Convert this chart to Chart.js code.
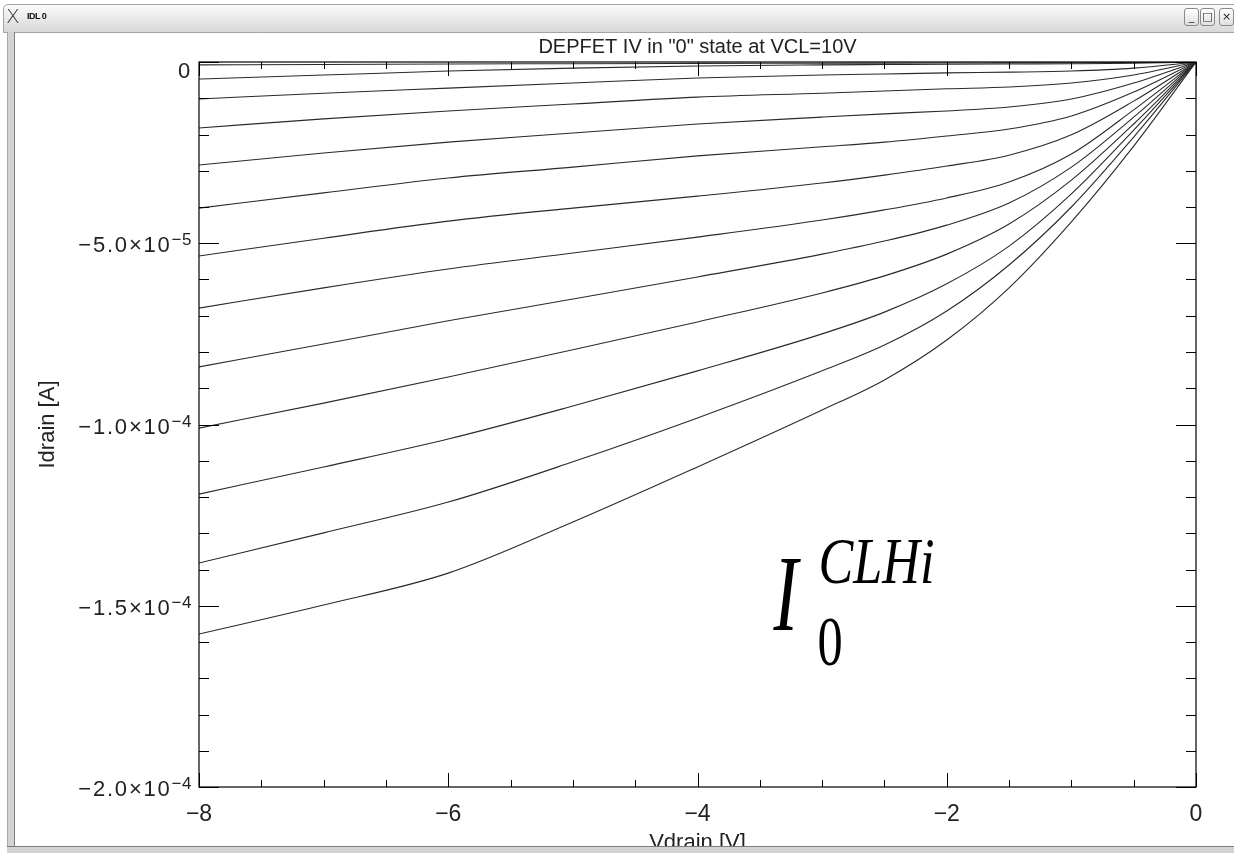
<!DOCTYPE html>
<html>
<head>
<meta charset="utf-8">
<script src="https://cdn.jsdelivr.net/npm/chart.js@4/dist/chart.umd.min.js"></script>
<style>
  html, body { margin: 0; padding: 0; background: #ffffff; width: 1234px; height: 853px; overflow: hidden; }
  #chart { position: absolute; left: 0; top: 0; }
  .chrome { position: absolute; z-index: 5; }
  #titlebar { left: 3px; top: 4px; width: 1240px; height: 27px; background: linear-gradient(#fbfbfb, #d8d8d8);
              border: 1px solid #a3a3a3; border-radius: 5px 5px 0 0; }
  #xicon { left: 6px; top: 4px; font: 200 20px "DejaVu Sans", sans-serif; color: #333; }
  #wname { left: 27px; top: 11px; font: bold 9px "Liberation Sans Narrow", "Liberation Sans", sans-serif; color: #111; letter-spacing: -0.5px; }
  .btn { top: 8px; width: 13px; height: 16px; border: 1px solid #8a8a8a; border-radius: 3px; background: linear-gradient(#ffffff, #e0e0e0);
         font: 11px "DejaVu Sans", sans-serif; color: #222; text-align: center; line-height: 15px; }
  #leftbar { left: 7px; top: 32px; width: 6px; height: 821px; background: #d3d3d3; border-left: 1px solid #a8a8a8; border-right: 1px solid #7d7d7d; }
  #bottombar { left: 7px; top: 846px; width: 1227px; height: 7px; background: #d3d3d3; border-top: 1px solid #7d7d7d; }
</style>
</head>
<body>
<canvas id="chart" width="1234" height="853"></canvas>
<div class="chrome" id="titlebar"></div>
<div class="chrome" id="xicon">X</div>
<div class="chrome" id="wname">IDL 0</div>
<div class="chrome btn" style="left:1184px;">_</div>
<div class="chrome btn" style="left:1200px;">□</div>
<div class="chrome btn" style="left:1219px;">×</div>
<div class="chrome" id="leftbar"></div>
<div class="chrome" id="bottombar"></div>
<script>
// ---- data ----
const vdrain = [-8, -7, -6, -5, -4, -3, -2.5, -2, -1.5, -1, -0.5, 0];

const idrain01 = [-0.08e-5, -0.07e-5, -0.055e-5, -0.047e-5, -0.039e-5, -0.033e-5, -0.030e-5, -0.028e-5, -0.025e-5, -0.022e-5, -0.014e-5, 0];
const idrain02 = [-0.47e-5, -0.36e-5, -0.25e-5, -0.17e-5, -0.11e-5, -0.08e-5, -0.07e-5, -0.06e-5, -0.055e-5, -0.05e-5, -0.036e-5, 0];
const idrain03 = [-1.02e-5, -0.86e-5, -0.72e-5, -0.58e-5, -0.44e-5, -0.36e-5, -0.33e-5, -0.30e-5, -0.28e-5, -0.25e-5, -0.17e-5, 0];
const idrain04 = [-1.82e-5, -1.57e-5, -1.35e-5, -1.16e-5, -0.97e-5, -0.86e-5, -0.80e-5, -0.74e-5, -0.69e-5, -0.58e-5, -0.36e-5, 0];
const idrain05 = [-2.84e-5, -2.51e-5, -2.21e-5, -1.96e-5, -1.71e-5, -1.52e-5, -1.43e-5, -1.35e-5, -1.24e-5, -1.02e-5, -0.58e-5, 0];
const idrain06 = [-4.03e-5, -3.61e-5, -3.20e-5, -2.90e-5, -2.59e-5, -2.34e-5, -2.21e-5, -2.04e-5, -1.85e-5, -1.49e-5, -0.83e-5, 0];
const idrain07 = [-5.35e-5, -4.86e-5, -4.39e-5, -4.03e-5, -3.70e-5, -3.34e-5, -3.12e-5, -2.87e-5, -2.57e-5, -2.01e-5, -1.08e-5, 0];
const idrain08 = [-6.79e-5, -6.23e-5, -5.71e-5, -5.27e-5, -4.83e-5, -4.36e-5, -4.08e-5, -3.75e-5, -3.31e-5, -2.54e-5, -1.32e-5, 0];
const idrain09 = [-8.41e-5, -7.78e-5, -7.14e-5, -6.54e-5, -5.93e-5, -5.30e-5, -4.94e-5, -4.50e-5, -3.89e-5, -2.90e-5, -1.52e-5, 0];
const idrain10 = [-10.10e-5, -9.41e-5, -8.69e-5, -7.94e-5, -7.17e-5, -6.37e-5, -5.90e-5, -5.30e-5, -4.47e-5, -3.26e-5, -1.71e-5, 0];
const idrain11 = [-11.92e-5, -11.17e-5, -10.40e-5, -9.49e-5, -8.52e-5, -7.50e-5, -6.90e-5, -6.12e-5, -5.08e-5, -3.64e-5, -1.88e-5, 0];
const idrain12 = [-13.82e-5, -12.99e-5, -12.14e-5, -11.03e-5, -9.82e-5, -8.52e-5, -7.81e-5, -6.87e-5, -5.60e-5, -4.00e-5, -2.07e-5, 0];
const idrain13 = [-15.78e-5, -14.98e-5, -14.10e-5, -12.69e-5, -11.17e-5, -9.60e-5, -8.77e-5, -7.67e-5, -6.23e-5, -4.41e-5, -2.32e-5, 0];

const xTickValues = [-8, -6, -4, -2, 0];
const xTickLabels = ['\u22128', '\u22126', '\u22124', '\u22122', '0'];
const yTickValues = [0, -5e-5, -1e-4, -1.5e-4, -2e-4];
const yTickMantissa = ['0', '\u22125.0\u00d710', '\u22121.0\u00d710', '\u22121.5\u00d710', '\u22122.0\u00d710'];
const yTickExponent = ['', '\u22125', '\u22124', '\u22124', '\u22124'];

const titleText = 'DEPFET IV in "0" state at VCL=10V';
const xTitle = 'Vdrain [V]';
const yTitle = 'Idrain [A]';
const annotation = { main: 'I', sup: 'CLHi', sub: '0', x: -3.39, y: -1.567e-4 };

// ---- build datasets ----
const curves = [idrain01, idrain02, idrain03, idrain04, idrain05, idrain06, idrain07,
                idrain08, idrain09, idrain10, idrain11, idrain12, idrain13];
const datasets = curves.map((c, i) => ({
  label: 'curve ' + (i + 1),
  data: vdrain.map((v, j) => ({ x: v, y: c[j] })),
  borderColor: '#2a2a2a',
  borderWidth: 1.1,
  pointRadius: 0,
  fill: false,
  cubicInterpolationMode: 'monotone'
}));

function findIndex(values, v, tol) {
  for (let i = 0; i < values.length; i++) {
    if (Math.abs(values[i] - v) < tol) return i;
  }
  return -1;
}

const FONT = '"Liberation Sans", Arial, sans-serif';
const SERIF = '"Liberation Serif", "Times New Roman", serif';

const framePlugin = {
  id: 'frame',
  afterDraw(chart) {
    const { ctx, chartArea: a, scales } = chart;
    const xs = scales.x, ys = scales.y;
    ctx.save();
    ctx.strokeStyle = '#000';
    ctx.lineWidth = 1.2;
    ctx.strokeRect(a.left, a.top, a.right - a.left, a.bottom - a.top);
    ctx.lineWidth = 1;
    ctx.beginPath();
    xs.ticks.forEach(t => {
      const px = Math.round(xs.getPixelForValue(t.value)) + 0.5;
      const major = findIndex(xTickValues, t.value, 1e-6) >= 0;
      const len = major ? 14 : 7;
      ctx.moveTo(px, a.bottom); ctx.lineTo(px, a.bottom - len);
      ctx.moveTo(px, a.top); ctx.lineTo(px, a.top + len);
    });
    ys.ticks.forEach(t => {
      const py = Math.round(ys.getPixelForValue(t.value)) + 0.5;
      const major = findIndex(yTickValues, t.value, 1e-9) >= 0;
      const len = major ? 20 : 10;
      ctx.moveTo(a.left, py); ctx.lineTo(a.left + len, py);
      ctx.moveTo(a.right, py); ctx.lineTo(a.right - len, py);
    });
    ctx.stroke();

    // y tick labels with real superscript exponents
    ctx.fillStyle = '#222';
    ctx.textBaseline = 'alphabetic';
    ctx.textAlign = 'left';
    ys.ticks.forEach(t => {
      const i = findIndex(yTickValues, t.value, 1e-9);
      if (i < 0) return;
      const py = ys.getPixelForValue(t.value);
      const right = a.left - 7;
      ctx.letterSpacing = '0.5px';
      ctx.font = '17px ' + FONT;
      const ew = yTickExponent[i] ? ctx.measureText(yTickExponent[i]).width : 0;
      ctx.letterSpacing = '1.8px';
      ctx.font = '22px ' + FONT;
      const mw = ctx.measureText(yTickMantissa[i]).width;
      const base = (Math.abs(py - a.top) < 1) ? py + 16 : py + 9;
      ctx.fillText(yTickMantissa[i], right - ew - mw, base);
      if (ew) {
        ctx.letterSpacing = '0.5px';
        ctx.font = '17px ' + FONT;
        ctx.fillText(yTickExponent[i], right - ew, base - 7);
      }
    });
    ctx.letterSpacing = '0px';

    // annotation I_0^{CLHi}
    const ax = xs.getPixelForValue(annotation.x);
    const ay = ys.getPixelForValue(annotation.y);
    ctx.fillStyle = '#000';
    const piece = (txt, font, dx, dy, sx) => {
      ctx.save();
      ctx.translate(ax + dx, ay + dy);
      ctx.scale(sx, 1);
      ctx.font = font;
      ctx.fillText(txt, 0, 0);
      ctx.restore();
    };
    piece(annotation.main, 'italic 108px ' + SERIF, 0, 0, 0.68);
    piece(annotation.sup, 'italic 66px ' + SERIF, 45, -47, 0.79);
    piece(annotation.sub, '70px ' + SERIF, 44, 35, 0.72);
    ctx.restore();
  }
};

new Chart(document.getElementById('chart'), {
  type: 'line',
  data: { datasets },
  options: {
    responsive: false,
    animation: false,
    layout: { padding: { left: 0, right: 38, top: 0, bottom: 0 } },
    plugins: {
      legend: { display: false },
      tooltip: { enabled: false },
      title: {
        display: true,
        text: titleText,
        fullSize: false,
        color: '#222',
        font: { family: FONT, size: 20, weight: 'normal' },
        padding: { top: 35, bottom: 3 }
      }
    },
    scales: {
      x: {
        type: 'linear',
        min: -8, max: 0,
        grid: { display: false },
        border: { display: false },
        ticks: {
          stepSize: 0.5,
          autoSkip: false,
          maxRotation: 0,
          padding: 6,
          color: '#222',
          font: { family: FONT, size: 23 },
          callback: (v) => { const i = findIndex(xTickValues, v, 1e-6); return i >= 0 ? xTickLabels[i] : ''; }
        },
        title: {
          display: true, text: xTitle, color: '#222',
          font: { family: FONT, size: 22 },
          padding: { top: 0, bottom: -3 }
        },
        afterFit: (s) => { s.height = 66; }
      },
      y: {
        type: 'linear',
        min: -2e-4, max: 0,
        grid: { display: false },
        border: { display: false },
        ticks: {
          stepSize: 1e-5,
          autoSkip: false,
          display: false
        },
        title: {
          display: true, text: yTitle, color: '#222',
          font: { family: FONT, size: 22 },
          padding: { top: 35, bottom: 0 }
        },
        afterFit: (s) => { s.width = 199; }
      }
    }
  },
  plugins: [framePlugin]
});
</script>
</body>
</html>
